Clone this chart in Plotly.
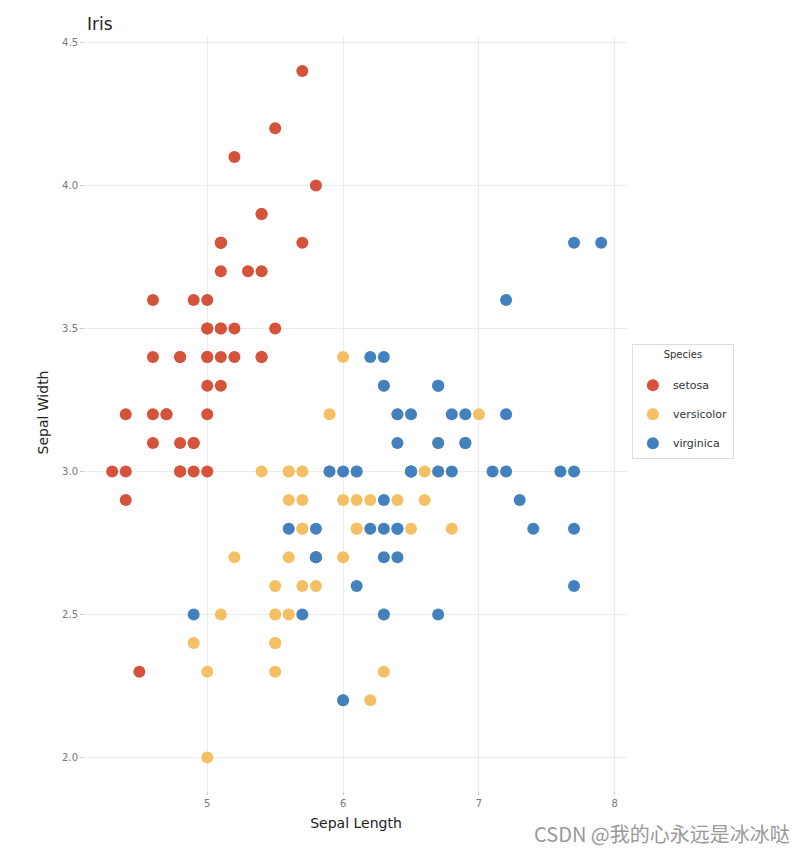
import plotly.graph_objects as go

species = ["setosa", "versicolor", "virginica"]
colors = ["#D5533A", "#F4C063", "#4281BE"]

setosa_len = [5.1,4.9,4.7,4.6,5.0,5.4,4.6,5.0,4.4,4.9,5.4,4.8,4.8,4.3,5.8,5.7,5.4,5.1,5.7,5.1,
              5.4,5.1,4.6,5.1,4.8,5.0,5.0,5.2,5.2,4.7,4.8,5.4,5.2,5.5,4.9,5.0,5.5,4.9,4.4,5.1,
              5.0,4.5,4.4,5.0,5.1,4.8,5.1,4.6,5.3,5.0]
setosa_wid = [3.5,3.0,3.2,3.1,3.6,3.9,3.4,3.4,2.9,3.1,3.7,3.4,3.0,3.0,4.0,4.4,3.9,3.5,3.8,3.8,
              3.4,3.7,3.6,3.3,3.4,3.0,3.4,3.5,3.4,3.2,3.1,3.4,4.1,4.2,3.1,3.2,3.5,3.6,3.0,3.4,
              3.5,2.3,3.2,3.5,3.8,3.0,3.8,3.2,3.7,3.3]
versicolor_len = [7.0,6.4,6.9,5.5,6.5,5.7,6.3,4.9,6.6,5.2,5.0,5.9,6.0,6.1,5.6,6.7,5.6,5.8,6.2,5.6,
                  5.9,6.1,6.3,6.1,6.4,6.6,6.8,6.7,6.0,5.7,5.5,5.5,5.8,6.0,5.4,6.0,6.7,6.3,5.6,5.5,
                  5.5,6.1,5.8,5.0,5.6,5.7,5.7,6.2,5.1,5.7]
versicolor_wid = [3.2,3.2,3.1,2.3,2.8,2.8,3.3,2.4,2.9,2.7,2.0,3.0,2.2,2.9,2.9,3.1,3.0,2.7,2.2,2.5,
                  3.2,2.8,2.5,2.8,2.9,3.0,2.8,3.0,2.9,2.6,2.4,2.4,2.7,2.7,3.0,3.4,3.1,2.3,3.0,2.5,
                  2.6,3.0,2.6,2.3,2.7,3.0,2.9,2.9,2.5,2.8]
virginica_len = [6.3,5.8,7.1,6.3,6.5,7.6,4.9,7.3,6.7,7.2,6.5,6.4,6.8,5.7,5.8,6.4,6.5,7.7,7.7,6.0,
                 6.9,5.6,7.7,6.3,6.7,7.2,6.2,6.1,6.4,7.2,7.4,7.9,6.4,6.3,6.1,7.7,6.3,6.4,6.0,6.9,
                 6.7,6.9,5.8,6.8,6.7,6.7,6.3,6.5,6.2,5.9]
virginica_wid = [3.3,2.7,3.0,2.9,3.0,3.0,2.5,2.9,2.5,3.6,3.2,2.7,3.0,2.5,2.8,3.2,3.0,3.8,2.6,2.2,
                 3.2,2.8,2.8,2.7,3.3,3.2,2.8,3.0,2.8,3.0,2.8,3.8,2.8,2.8,2.6,3.0,3.4,3.1,3.0,3.1,
                 3.1,3.1,2.7,3.2,3.3,3.0,2.5,3.0,3.4,3.0]

x_ticks = [5, 6, 7, 8]
y_ticks = [2.0, 2.5, 3.0, 3.5, 4.0, 4.5]
y_ticklabels = ["2.0", "2.5", "3.0", "3.5", "4.0", "4.5"]

series = [(setosa_len, setosa_wid), (versicolor_len, versicolor_wid), (virginica_len, virginica_wid)]

# the page has an 8px body margin, so the figure is drawn 8px smaller and offset
W, H = 796, 846
L, R, T, B = 77, 177, 27, 64

fig = go.Figure()
for name, color, (xs, ys) in zip(species, colors, series):
    fig.add_trace(go.Scatter(
        x=xs, y=ys, mode="markers", name=name, legendgroup=name,
        marker=dict(size=12, color=color, line=dict(width=0)),
    ))

axis_common = dict(
    showgrid=True, gridcolor="#ececec", gridwidth=1, zeroline=False, showline=False,
    ticks="outside", ticklen=4, tickcolor="#cccccc", automargin=False,
    tickfont=dict(family="DejaVu Sans", size=10, color="#777777"),
)

pw = W - L - R
ph = H - T - B

fig.update_layout(
    width=W, height=H,
    paper_bgcolor="white", plot_bgcolor="white",
    margin=dict(l=L, r=R, t=T, b=B),
    title=dict(text="Iris", x=79 / W, xanchor="left", y=1 - 16 / H, yanchor="middle",
               font=dict(family="DejaVu Sans", size=17, color="#222222")),
    xaxis=dict(range=[4.1, 8.09], tickvals=x_ticks, ticktext=[str(v) for v in x_ticks],
               title=dict(text="Sepal Length", standoff=10,
                          font=dict(family="DejaVu Sans", size=14, color="#222222")),
               **axis_common),
    yaxis=dict(range=[1.8864, 4.5262], tickvals=y_ticks, ticktext=y_ticklabels,
               title=dict(text="Sepal Width", standoff=10,
                          font=dict(family="DejaVu Sans", size=14, color="#222222")),
               **axis_common),
    legend=dict(
        x=1.009, xanchor="left", y=0.515, yanchor="middle",
        bordercolor="#dddddd", borderwidth=1, bgcolor="white",
        title=dict(text="Species<br> ", side="top center",
                   font=dict(family="DejaVu Sans", size=10, color="#333333")),
        font=dict(family="DejaVu Sans", size=11, color="#333333"),
        tracegroupgap=10,
    ),
    annotations=[dict(
        text="CSDN @我的心永远是冰冰哒", xref="paper", yref="paper",
        x=(784 - L) / pw, y=(H - B - 825) / ph, showarrow=False,
        xanchor="right", yanchor="middle",
        font=dict(family="Noto Sans CJK SC", size=20, color="#999999"),
    )],
)

fig.write_html("out.html")
